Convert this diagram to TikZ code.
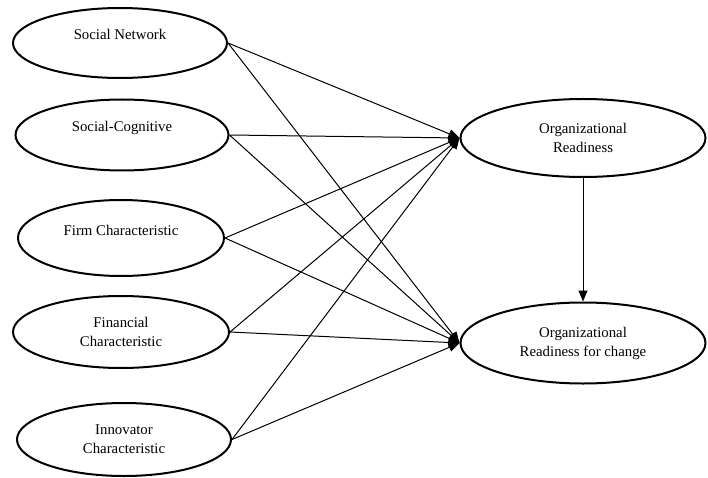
\documentclass[tikz,border=0pt]{standalone}
\usepackage{fontspec}
\setmainfont{Liberation Serif}
\usepackage{tikz}
\usetikzlibrary{shapes.geometric, arrows.meta, positioning, calc}

\begin{document}
\begin{tikzpicture}[x=1pt, y=-1pt, >={Triangle[length=11pt,width=9pt]}, every node/.style={font=\fontsize{14.8}{19}\selectfont}]
    \tikzstyle{factor} = [ellipse, draw=black, line width=2pt, align=center, inner sep=0pt]
    \tikzstyle{oneline} = [text height=10pt, text depth=16pt]
    \tikzstyle{line} = [draw, ->, line width=1pt, black]

    \useasboundingbox (0,0) rectangle (708,478);

    \node [factor, oneline, minimum width=214pt, minimum height=70pt] (network) at (120,43) {Social Network};
    \node [factor, oneline, minimum width=213pt, minimum height=71pt] (cognitive) at (122,135) {Social-Cognitive};
    \node [factor, oneline, minimum width=206pt, minimum height=76pt] (firm) at (121,238) {Firm Characteristic};
    \node [factor, minimum width=216pt, minimum height=72pt] (financial) at (121,332) {Financial\\Characteristic};
    \node [factor, minimum width=214pt, minimum height=73pt] (innovator) at (124,439.5) {Innovator\\Characteristic};

    \node [factor, minimum width=245pt, minimum height=78pt] (readiness) at (583,138) {Organizational\\Readiness};
    \node [factor, minimum width=245pt, minimum height=81pt] (change) at (583,343) {Organizational\\Readiness for change};

    \path [line] (network.east) -- (readiness.west);
    \path [line] (network.east) -- (change.west);
    \path [line] (cognitive.east) -- (readiness.west);
    \path [line] (cognitive.east) -- (change.west);
    \path [line] (firm.east) -- (readiness.west);
    \path [line] (firm.east) -- (change.west);
    \path [line] (financial.east) -- (readiness.west);
    \path [line] (financial.east) -- (change.west);
    \path [line] (innovator.east) -- (readiness.west);
    \path [line] (innovator.east) -- (change.west);
    \path [line] (readiness.south) -- (change.north);
\end{tikzpicture}
\end{document}
